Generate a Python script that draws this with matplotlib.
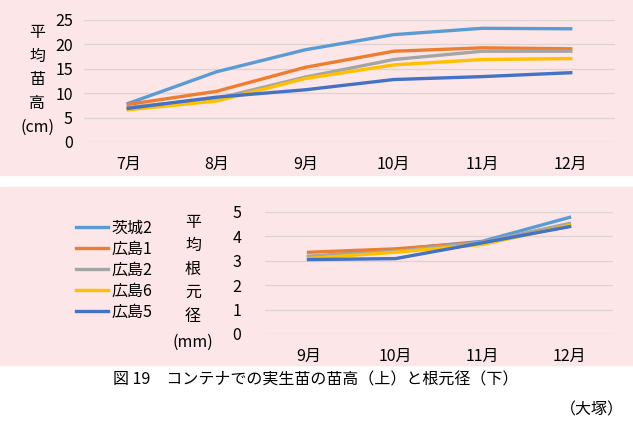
import matplotlib.pyplot as plt
from matplotlib.patches import Rectangle

plt.rcParams["font.family"] = ["Noto Sans CJK JP", "DejaVu Sans"]

series_names = ["茨城2", "広島1", "広島2", "広島6", "広島5"]
colors = ["#5b9bd5", "#ed7d31", "#a5a5a5", "#ffc000", "#4472c4"]

height_months = ["7月", "8月", "9月", "10月", "11月", "12月"]
height_values = [
    [7.9, 14.4, 18.9, 22.0, 23.3, 23.2],   # 茨城2
    [7.7, 10.4, 15.3, 18.6, 19.3, 19.1],   # 広島1
    [7.1, 8.9, 13.3, 16.9, 18.6, 18.6],    # 広島2
    [6.6, 8.4, 13.0, 15.8, 16.9, 17.1],    # 広島6
    [6.9, 9.2, 10.7, 12.8, 13.4, 14.2],    # 広島5
]

diam_months = ["9月", "10月", "11月", "12月"]
diam_values = [
    [3.16, 3.46, 3.80, 4.78],
    [3.35, 3.49, 3.76, 4.42],
    [3.19, 3.39, 3.76, 4.53],
    [3.10, 3.35, 3.67, 4.45],
    [3.05, 3.09, 3.74, 4.40],
]

PINK = "#fde6e7"
GRID = "#dcd4d4"
FS = 11.5


def style_axis(ax, n, ylim, step, ypad):
    ax.set_facecolor("none")
    ax.set_xlim(-0.5, n - 0.5)
    ax.set_ylim(*ylim)
    ax.set_yticks(range(ylim[0], ylim[1] + 1, step))
    ax.set_xticks(range(n))
    for s in ax.spines.values():
        s.set_visible(False)
    ax.grid(axis="y", color=GRID, linewidth=0.9)
    ax.set_axisbelow(True)
    ax.tick_params(length=0, labelsize=FS)
    ax.tick_params(axis="y", pad=ypad)
    ax.tick_params(axis="x", pad=10)


fig = plt.figure(figsize=(6.33, 4.33), dpi=100)
fig.patches.append(Rectangle((0, 1 - 175 / 433), 1, 175 / 433, transform=fig.transFigure,
                             color=PINK, zorder=-10))
fig.patches.append(Rectangle((0, 1 - 365 / 433), 1, 178 / 433, transform=fig.transFigure,
                             color=PINK, zorder=-10))

# top: seedling height
ax1 = fig.add_axes([84 / 633, 1 - 142 / 433, 531 / 633, 122 / 433])
style_axis(ax1, len(height_months), (0, 25), 5, 8)
for name, vals, c in zip(series_names, height_values, colors):
    ax1.plot(range(len(height_months)), vals, color=c, lw=2.4, label=name)
ax1.set_xticklabels(height_months)
fig.text(37 / 633, 1 - 68 / 433, "平\n均\n苗\n高", ha="center", va="center",
         fontsize=FS, linespacing=1.5)
fig.text(38 / 633, 1 - 127 / 433, "(cm)", ha="center", va="center", fontsize=FS)

# bottom: root collar diameter
ax2 = fig.add_axes([265 / 633, 1 - 334 / 433, 348 / 633, 122 / 433])
style_axis(ax2, len(diam_months), (0, 5), 1, 17)
for name, vals, c in zip(series_names, diam_values, colors):
    ax2.plot(range(len(diam_months)), vals, color=c, lw=2.4, label=name)
ax2.set_xticklabels(diam_months)
fig.text(193 / 633, 1 - 269 / 433, "平\n均\n根\n元\n径", ha="center", va="center",
         fontsize=FS, linespacing=1.5)
fig.text(193 / 633, 1 - 342 / 433, "(mm)", ha="center", va="center", fontsize=FS)

handles, labels = ax2.get_legend_handles_labels()
fig.legend(handles, labels, loc="upper left", bbox_to_anchor=(76 / 633, 1 - 220 / 433),
           frameon=False, fontsize=FS, handlelength=2.0, handletextpad=0.2,
           labelspacing=0.25, borderaxespad=0, borderpad=0)

fig.text(316 / 633, 1 - 380 / 433, "図 19　コンテナでの実生苗の苗高（上）と根元径（下）",
         ha="center", va="center", fontsize=FS)
fig.text(624 / 633, 1 - 410 / 433, "（大塚）", ha="right", va="center", fontsize=FS)

fig.savefig("out.png", dpi=100)
